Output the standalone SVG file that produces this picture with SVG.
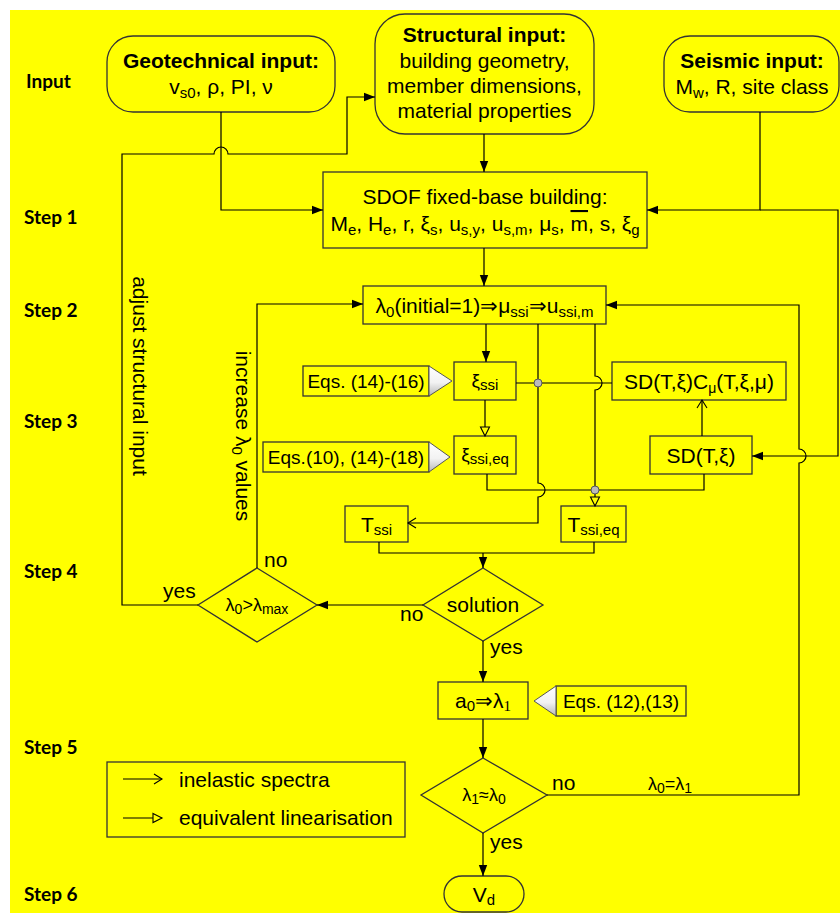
<svg xmlns="http://www.w3.org/2000/svg" width="840" height="913" viewBox="0 0 840 913">
<defs>
<style>
text{font-family:"Liberation Sans",Arial,sans-serif;fill:#000}
.t{font-size:21px}
.s{font-size:19px}
.e{font-size:18px}
.b{font-weight:bold}
.step{font-family:Lato,"Liberation Sans",sans-serif;font-weight:bold;font-size:19px}
.box{fill:#ffff00;stroke:#333;stroke-width:1.3}
.ln{fill:none;stroke:#000;stroke-width:1.2}
.m{text-anchor:middle}
.call{fill:url(#g);stroke:#555;stroke-width:1}
.dot{fill:#bbb;stroke:#555;stroke-width:1}
.fa{marker-end:url(#fa)}
.va{marker-end:url(#va)}
.ha{marker-end:url(#ha)}
</style>
<linearGradient id="g" x1="0" y1="0" x2="0" y2="1"><stop offset="0" stop-color="#fff"/><stop offset="0.55" stop-color="#f2f2f2"/><stop offset="1" stop-color="#b8b8b8"/></linearGradient>
<marker id="fa" markerUnits="userSpaceOnUse" markerWidth="12" markerHeight="10" refX="11" refY="5" orient="auto"><path d="M0,0.8 L11,5 L0,9.2 z" fill="#000"/></marker>
<marker id="va" markerUnits="userSpaceOnUse" markerWidth="12" markerHeight="12" refX="9" refY="6" orient="auto"><path d="M1,1 L9,6 L1,11" fill="none" stroke="#000" stroke-width="1.1"/></marker>
<marker id="ha" markerUnits="userSpaceOnUse" markerWidth="12" markerHeight="12" refX="10" refY="6" orient="auto"><path d="M1,1.5 L10,6 L1,10.5 z" fill="#ffff00" stroke="#000" stroke-width="1.1"/></marker>
</defs>
<rect x="0" y="0" width="840" height="913" fill="#fff"/>
<rect x="10" y="10" width="830" height="903" fill="#ffff00"/>

<g id="labels">
<text class="step" x="26" y="88">Input</text>
<text class="step" x="24" y="224">Step 1</text>
<text class="step" x="24" y="317">Step 2</text>
<text class="step" x="24" y="428">Step 3</text>
<text class="step" x="24" y="578">Step 4</text>
<text class="step" x="24" y="754">Step 5</text>
<text class="step" x="24" y="901">Step 6</text>
</g>

<g id="geotechnical">
<rect class="box" x="107" y="36" width="228" height="76" rx="26"/>
<text class="t b m" x="221" y="68">Geotechnical input:</text>
<text class="t m" x="221" y="94">v<tspan font-size="15" dy="4">s0</tspan><tspan dy="-4">, ρ, PI, ν</tspan></text>
</g>

<g id="structural">
<rect class="box" x="375" y="14" width="219" height="120" rx="30"/>
<text class="t b m" x="484.5" y="42">Structural input:</text>
<text class="t m" x="484.5" y="68">building geometry,</text>
<text class="t m" x="484.5" y="93">member dimensions,</text>
<text class="t m" x="484.5" y="118">material properties</text>
</g>

<g id="seismic">
<rect class="box" x="664" y="36" width="175" height="76" rx="26"/>
<text class="t b m" x="752" y="68">Seismic input:</text>
<text class="t m" x="752" y="94">M<tspan font-size="15" dy="4">w</tspan><tspan dy="-4">, R, site class</tspan></text>
</g>

<g id="sdof">
<rect class="box" x="323" y="172" width="324" height="76"/>
<text class="t m" x="485" y="204">SDOF fixed-base building:</text>
<text class="t m" x="485" y="231">M<tspan font-size="15" dy="4">e</tspan><tspan dy="-4">, H</tspan><tspan font-size="15" dy="4">e</tspan><tspan dy="-4">, r, ξ</tspan><tspan font-size="15" dy="4">s</tspan><tspan dy="-4">, u</tspan><tspan font-size="15" dy="4">s,y</tspan><tspan dy="-4">, u</tspan><tspan font-size="15" dy="4">s,m</tspan><tspan dy="-4">, μ</tspan><tspan font-size="15" dy="4">s</tspan><tspan dy="-4">, </tspan><tspan style="text-decoration:overline">m</tspan><tspan>, s, ξ</tspan><tspan font-size="15" dy="4">g</tspan></text>
</g>

<g id="lambda0">
<rect class="box" x="363" y="286" width="243" height="38"/>
<text class="t m" x="484.5" y="313">λ<tspan font-size="15" dy="4">0</tspan><tspan dy="-4">(initial=1)⇒μ</tspan><tspan font-size="15" dy="4">ssi</tspan><tspan dy="-4">⇒u</tspan><tspan font-size="15" dy="4">ssi,m</tspan></text>
</g>

<g id="xi-ssi">
<rect class="box" x="454" y="362" width="62" height="38"/>
<text class="s m" x="485" y="387">ξ<tspan font-size="15" dy="3">ssi</tspan></text>
</g>

<g id="eqs-14-16">
<rect class="box" x="303" y="366" width="126" height="30"/>
<polygon class="call" points="429,366 452,381 429,396"/>
<text class="s m" x="366" y="388">Eqs. (14)-(16)</text>
</g>

<g id="xi-ssi-eq">
<rect class="box" x="454" y="436" width="62" height="38"/>
<text class="s m" x="485" y="461">ξ<tspan font-size="15" dy="3">ssi,eq</tspan></text>
</g>

<g id="eqs-10-18">
<rect class="box" x="263" y="442" width="166" height="30"/>
<polygon class="call" points="429,442 450,457 429,472"/>
<text class="s m" x="346" y="464">Eqs.(10), (14)-(18)</text>
</g>

<g id="sd-cmu">
<rect class="box" x="612" y="362" width="174" height="38"/>
<text class="t m" x="699" y="389">SD(T,ξ)C<tspan font-size="14" dy="4">μ</tspan><tspan dy="-4">(T,ξ,μ)</tspan></text>
</g>

<g id="sd">
<rect class="box" x="650" y="436" width="102" height="38"/>
<text class="t m" x="701" y="463">SD(T,ξ)</text>
</g>

<g id="t-ssi">
<rect class="box" x="345" y="506" width="63" height="36"/>
<text class="t m" x="376.5" y="532">T<tspan font-size="15" dy="3">ssi</tspan></text>
</g>

<g id="t-ssi-eq">
<rect class="box" x="561" y="506" width="65" height="36"/>
<text class="t m" x="593.5" y="532">T<tspan font-size="15" dy="3">ssi,eq</tspan></text>
</g>

<g id="solution">
<polygon class="box" points="483,568 543,605 483,641 423,605"/>
<text class="t m" x="483" y="612">solution</text>
</g>

<g id="lambda-max">
<polygon class="box" points="257,568 317,605 257,642 198,605"/>
<text class="e m" x="257" y="611">λ<tspan font-size="14" dy="3">0</tspan><tspan dy="-3">&gt;λ</tspan><tspan font-size="14" dy="3">max</tspan></text>
</g>

<g id="a0">
<rect class="box" x="438" y="682" width="90" height="37"/>
<text class="t m" x="483" y="708">a<tspan font-size="15" dy="3">0</tspan><tspan dy="-3">⇒λ</tspan><tspan font-size="15" dy="3" font-family="Liberation Serif">1</tspan></text>
</g>

<g id="eqs-12-13">
<rect class="box" x="556" y="686" width="130" height="30"/>
<polygon class="call" points="556,686 534,701 556,716"/>
<text class="s m" x="621" y="708">Eqs. (12),(13)</text>
</g>

<g id="converge">
<polygon class="box" points="483,758 547,795 483,833 421,795"/>
<text class="e m" x="484" y="801">λ<tspan font-size="14" dy="3">1</tspan><tspan dy="-3">≈λ</tspan><tspan font-size="14" dy="3">0</tspan></text>
</g>

<g id="vd">
<rect class="box" x="444" y="876" width="80" height="36" rx="18"/>
<text class="t m" x="484" y="902">V<tspan font-size="15" dy="3">d</tspan></text>
</g>

<g id="legend">
<rect class="box" x="107" y="762" width="298" height="75"/>
<path class="ln va" d="M123,779 H162"/>
<path class="ln ha" d="M123,818 H162"/>
<text class="t" x="179" y="787">inelastic spectra</text>
<text class="t" x="179" y="825">equivalent linearisation</text>
</g>

<g id="connectors">
<path class="ln fa" d="M221,112 V210 H323"/>
<path class="ln fa" d="M484,134 V172"/>
<path class="ln fa" d="M760,112 V210 H647"/>
<path class="ln fa" d="M760,210 H838 V456 H752"/>
<path class="ln fa" d="M484,248 V286"/>
<path class="ln fa" d="M198,605 H122 V154 H214 A7,7 0 0 1 228,154 H347 V97 H375"/>
<path class="ln fa" d="M257,568 V304 H363"/>
<path class="ln fa" d="M547,795 H799 V463 A7,7 0 0 0 799,449 V305 H606"/>
<path class="ln fa" d="M486,324 V362"/>
<path class="ln va" d="M538,324 V483 A7,7 0 0 1 538,497 V523 H408"/>
<path class="ln ha" d="M595,324 V376 A7,7 0 0 1 595,390 V506"/>
<path class="ln" d="M516,383 H612"/>
<path class="ln ha" d="M485,400 V436"/>
<path class="ln" d="M487,474 V490 H704 V474"/>
<path class="ln va" d="M702,436 V400"/>
<path class="ln" d="M379,542 V553 H594 V542"/>
<path class="ln fa" d="M483,553 V568"/>
<path class="ln fa" d="M423,605 H317"/>
<path class="ln fa" d="M483,641 V682"/>
<path class="ln fa" d="M483,719 V758"/>
<path class="ln fa" d="M483,833 V876"/>
<circle class="dot" cx="538" cy="383" r="4"/>
<circle class="dot" cx="595" cy="490" r="4"/>
<text class="t" x="133" y="376" text-anchor="middle" transform="rotate(90 133 376)">adjust structural input</text>
<text class="t" x="236" y="436" text-anchor="middle" transform="rotate(90 236 436)">increase λ<tspan font-size="15" dy="4">0</tspan><tspan dy="-4"> values</tspan></text>
<text class="t" x="163" y="598">yes</text>
<text class="t" x="264" y="567">no</text>
<text class="t" x="400" y="621">no</text>
<text class="t" x="490" y="654">yes</text>
<text class="t" x="552" y="790">no</text>
<text class="e" x="648" y="790">λ<tspan font-size="14" dy="3">0</tspan><tspan dy="-3">=λ</tspan><tspan font-size="14" dy="3">1</tspan></text>
<text class="t" x="490" y="849">yes</text>
</g>
</svg>
